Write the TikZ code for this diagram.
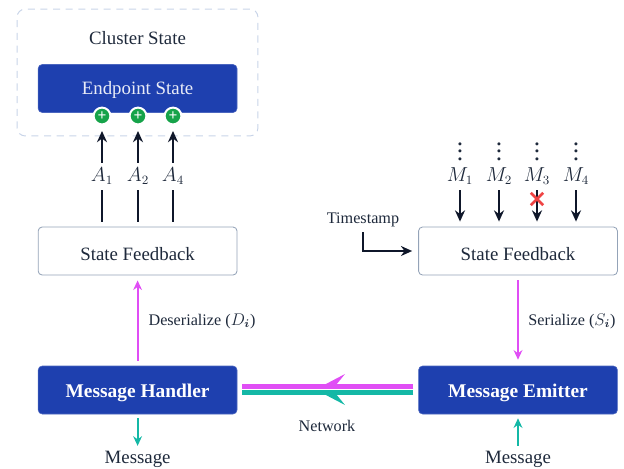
\documentclass[tikz,border=0pt]{standalone}
\usepackage{amsmath}
\usepackage{fontspec}
\setmainfont{Liberation Serif}
\usetikzlibrary{arrows.meta,shapes.misc}

\definecolor{inkdark}{HTML}{1E293B}
\definecolor{arrowdark}{HTML}{0F172A}
\definecolor{bluebox}{HTML}{1E40AF}
\definecolor{greyedge}{HTML}{94A3B8}
\definecolor{dashedge}{HTML}{C8D4E8}
\definecolor{pinkline}{HTML}{E04EF5}
\definecolor{tealline}{HTML}{14B8A6}
\definecolor{addgreen}{HTML}{16A34A}
\definecolor{dropred}{HTML}{EF4444}

\tikzset{
  every node/.style={text=inkdark, font=\fontsize{13.4}{15}\selectfont},
  plainbox/.style={draw=greyedge, line width=.6pt, fill=white, rounded corners=.1cm,
    minimum width=4.97cm, minimum height=1.2cm, text height=13pt, text depth=.2pt},
  bluenode/.style={draw=bluebox!80!white, line width=.4pt, fill=bluebox, rounded corners=.1cm,
    minimum width=4.97cm, minimum height=1.2cm, text height=9pt, text depth=.5pt},
  boldnode/.style={bluenode, text=white, text height=10pt, text depth=0pt,
    font=\fontsize{13.8}{15}\selectfont\bfseries},
  addmark/.style={circle, fill=addgreen, draw=white, line width=1.4pt, inner sep=0pt,
    minimum size=.42cm, text=white, font=\fontsize{11}{11}\selectfont\bfseries},
  symlabel/.style={inner sep=0pt, minimum height=.675cm, minimum width=.6cm},
  flow/.style={draw=arrowdark, line width=1.5pt, -{Stealth[length=.28cm,width=.25cm]}},
  flowplain/.style={draw=arrowdark, line width=1.5pt},
  pinkflow/.style={draw=pinkline, line width=1.5pt, -{Stealth[length=.24cm,width=.22cm]}},
  tealflow/.style={draw=tealline, line width=1.5pt, -{Stealth[length=.24cm,width=.22cm]}},
  netline/.style={line width=3.6pt},
  smalltext/.style={font=\fontsize{11.5}{13}\selectfont},
}

\begin{document}
\begin{tikzpicture}[x=.025cm, y=-.025cm]

  \useasboundingbox (0,0) rectangle (624,468);

  % cluster side
  \node (cluster) [draw=dashedge, line width=.7pt, dash pattern=on 5pt off 4pt, rounded corners=.2cm,
    minimum width=6.02cm, minimum height=3.17cm] at (137.5,72.5) {};
  \node (clustertext) at (137.5,38) {Cluster State};
  \node (endpoint) [bluenode, text=white!90!bluebox] at (137.6,88.5) {Endpoint State};
  \node (add1) [addmark] at (102,116) {+};
  \node (add2) [addmark] at (138,116) {+};
  \node (add3) [addmark] at (173,116) {+};

  \begin{scope}[every node/.append style={symlabel, font=\fontsize{13.5}{15}\selectfont}]
    \node (a1) at (102,176.5) {$A_1$};
    \node (a2) at (138,176.5) {$A_2$};
    \node (a4) at (173,176.5) {$A_4$};
    \node (m1) at (460,176.5) {$M_1$};
    \node (m2) at (499,176.5) {$M_2$};
    \node (m3) at (537,176.5) {$M_3$};
    \node (m4) at (576,176.5) {$M_4$};
  \end{scope}

  \begin{scope}[every node/.append style={scale=1.35, inner sep=0pt}]
    \node (dots1) at (460,146) {$\vdots$};
    \node (dots2) at (499,146) {$\vdots$};
    \node (dots3) at (537,146) {$\vdots$};
    \node (dots4) at (576,146) {$\vdots$};
  \end{scope}

  % boxes
  \node (feedleft)  [plainbox] at (137.6,251) {State Feedback};
  \node (feedright) [plainbox] at (518,251)   {State Feedback};
  \node (handler) [boldnode] at (137.6,390) {Message Handler};
  \node (emitter) [boldnode] at (518,390)   {Message Emitter};

  % texts
  \node (stamp) [smalltext, inner sep=1pt, minimum height=.5cm] at (363,220) {Timestamp};
  \node (msgleft)  at (137.6,459) {Message};
  \node (msgright) at (518,459)   {Message};
  \node (network) [smalltext] at (327,426) {Network};
  \node (deser) [smalltext] at (202,321) {Deserialize ($D_{\boldsymbol{i}}$)};
  \node (ser)   [smalltext] at (572,321) {Serialize ($S_{\boldsymbol{i}}$)};

  % acks
  \foreach \from/\to in {a1/add1, a2/add2, a4/add3}
    \draw[flow, shorten >=.14cm] (\from) -- (\to);
  \foreach \from in {a1, a2, a4}
    \draw[flowplain, shorten >=.125cm] (\from) -- (\from |- feedleft.north);

  % incoming messages
  \foreach \from in {m1, m2, m3, m4}
    \draw[flow, shorten >=.125cm] (\from) -- (\from |- feedright.north);
  \node (drop) [cross out, draw=dropred, line width=1.9pt, inner sep=0pt, minimum size=.24cm] at (537,199) {};

  \draw[flow, shorten >=.15cm, shorten <=.05cm] (stamp) |- (feedright);

  % handler and emitter
  \draw[pinkflow, shorten >=.125cm, shorten <=.125cm] (handler) -- (feedleft);
  \draw[pinkflow, shorten >=.15cm, shorten <=.125cm] (feedright) -- (emitter);
  \draw[tealflow, shorten <=.1cm] (handler) -- (msgleft);
  \draw[tealflow, shorten >=.1cm] (msgright) -- (emitter);

  % network
  \draw[netline, draw=pinkline, shorten >=.12cm, shorten <=.125cm]
    ([yshift=.085cm]emitter.west) -- ([yshift=.085cm]handler.east);
  \draw[netline, draw=tealline, shorten >=.12cm, shorten <=.125cm]
    ([yshift=-.06cm]emitter.west) -- ([yshift=-.06cm]handler.east);
  \fill[pinkline] (345,374) -- (324,385) -- (336,385) -- cycle;
  \fill[tealline] (345,405) -- (324,394) -- (336,394) -- cycle;

\end{tikzpicture}
\end{document}
